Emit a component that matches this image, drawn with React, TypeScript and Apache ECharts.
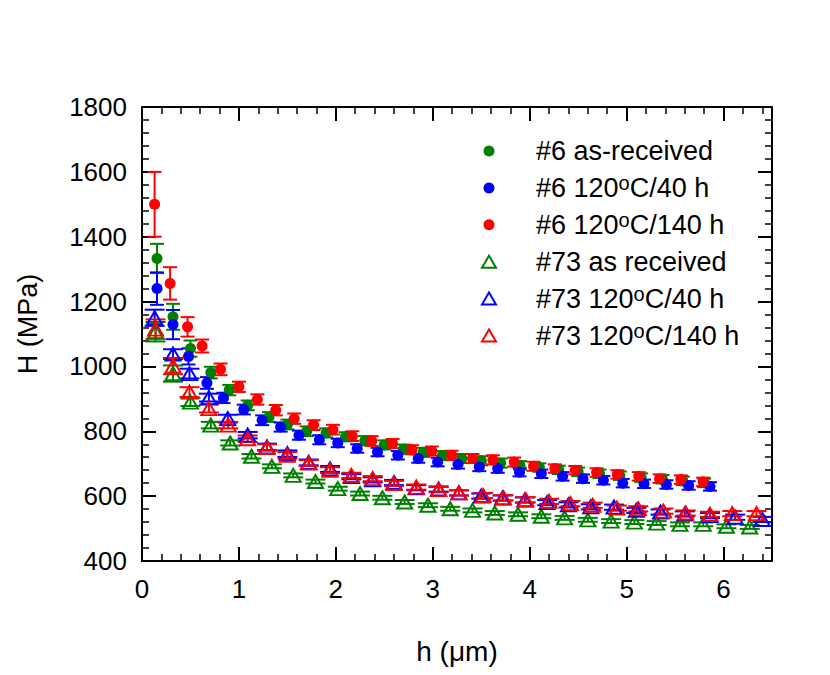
import React, { useEffect, useRef } from "react";
import * as echarts from "echarts";

const FONT = "'Liberation Sans', Arial, sans-serif";

// tick labels
const xTickLabels = ["0", "1", "2", "3", "4", "5", "6"];
const yTickLabels = ["400", "600", "800", "1000", "1200", "1400", "1600", "1800"];

// #6 as-received (green circles)
const hG6 = [0.155, 0.32, 0.5, 0.71, 0.9, 1.09, 1.31, 1.5, 1.7, 1.9, 2.1, 2.3, 2.5, 2.7, 2.9, 3.1, 3.3, 3.5, 3.7, 3.9, 4.1, 4.3, 4.5, 4.72, 4.93, 5.15, 5.37, 5.58, 5.8];
const HG6 = [1333, 1153, 1055, 981, 927, 880, 844, 821, 800, 795, 783, 771, 758, 745, 735, 725, 716, 709, 702, 695, 688, 681, 675, 669, 663, 657, 652, 647, 641];
const eG6 = [45, 40, 25, 18, 16, 15, 15, 15, 15, 14, 14, 14, 14, 14, 14, 14, 14, 14, 14, 13, 13, 13, 13, 13, 13, 13, 13, 13, 13];

// #6 120oC/40 h (blue circles)
const hB6 = [0.155, 0.32, 0.48, 0.67, 0.84, 1.05, 1.24, 1.43, 1.62, 1.83, 2.02, 2.22, 2.43, 2.64, 2.85, 3.05, 3.26, 3.48, 3.67, 3.895, 4.12, 4.34, 4.55, 4.76, 4.96, 5.18, 5.41, 5.64, 5.86];
const HB6 = [1240, 1129, 1031, 949, 903, 867, 834, 813, 788, 774, 764, 747, 736, 726, 716, 705, 698, 690, 685, 674, 669, 661, 654, 649, 640, 638, 636, 633, 630];
const eB6 = [50, 45, 25, 18, 16, 15, 15, 14, 14, 14, 13, 13, 13, 13, 13, 13, 13, 13, 13, 13, 13, 13, 13, 13, 13, 13, 13, 13, 13];

// #6 120oC/140 h (red circles)
const hR6 = [0.13, 0.29, 0.47, 0.62, 0.81, 1.0, 1.19, 1.38, 1.57, 1.77, 1.97, 2.17, 2.37, 2.585, 2.785, 2.99, 3.195, 3.41, 3.62, 3.84, 4.04, 4.26, 4.47, 4.69, 4.905, 5.125, 5.34, 5.56, 5.79];
const HR6 = [1500, 1256, 1122, 1063, 991, 937, 898, 865, 839, 819, 805, 785, 770, 762, 743, 739, 726, 716, 712, 705, 692, 685, 680, 673, 667, 661, 654, 651, 644];
const eR6 = [100, 50, 30, 20, 18, 16, 16, 16, 16, 15, 15, 15, 15, 14, 14, 14, 14, 14, 14, 14, 14, 13, 13, 13, 13, 13, 13, 13, 13];

// #73 as received (green triangles)
const hG73 = [0.14, 0.32, 0.5, 0.71, 0.91, 1.13, 1.34, 1.56, 1.79, 2.02, 2.25, 2.48, 2.71, 2.95, 3.18, 3.41, 3.64, 3.88, 4.12, 4.36, 4.6, 4.84, 5.08, 5.31, 5.55, 5.79, 6.03, 6.27];
const HG73 = [1107, 978, 890, 819, 764, 723, 692, 664, 645, 623, 608, 595, 582, 572, 561, 556, 548, 544, 538, 533, 527, 523, 520, 517, 513, 513, 507, 505];
const eG73 = [30, 25, 12, 10, 8, 7, 6, 6, 6, 6, 6, 6, 6, 6, 6, 6, 6, 6, 6, 6, 6, 6, 6, 6, 6, 6, 6, 6];

// #73 120oC/40 h (blue triangles)
const hB73 = [0.13, 0.32, 0.49, 0.69, 0.885, 1.09, 1.29, 1.5, 1.72, 1.94, 2.16, 2.38, 2.6, 2.83, 3.06, 3.27, 3.5, 3.72, 3.95, 4.18, 4.4, 4.63, 4.87, 5.1, 5.35, 5.6, 5.86, 6.12, 6.4];
const HB73 = [1150, 1038, 978, 904, 839, 788, 752, 731, 704, 684, 660, 650, 642, 626, 622, 610, 600, 594, 588, 580, 573, 567, 566, 556, 551, 545, 540, 535, 528];
const eB73 = [25, 15, 15, 12, 12, 10, 10, 10, 9, 9, 8, 8, 8, 8, 8, 8, 8, 8, 8, 8, 8, 8, 8, 8, 8, 8, 8, 8, 8];

// #73 120oC/140 h (red triangles)
const hR73 = [0.14, 0.32, 0.49, 0.69, 0.89, 1.09, 1.29, 1.5, 1.72, 1.94, 2.16, 2.38, 2.6, 2.83, 3.06, 3.27, 3.52, 3.73, 3.96, 4.2, 4.42, 4.65, 4.9, 5.12, 5.38, 5.61, 5.86, 6.09, 6.34];
const HR73 = [1115, 1001, 921, 870, 819, 777, 750, 726, 702, 680, 664, 654, 639, 628, 620, 610, 602, 595, 589, 584, 577, 572, 563, 561, 554, 548, 544, 546, 546];
const eR73 = [30, 25, 15, 12, 10, 10, 10, 10, 9, 9, 8, 8, 8, 8, 8, 8, 8, 8, 8, 8, 8, 8, 8, 8, 8, 8, 8, 8, 8];

const GREEN = "#008000";
const BLUE = "#0000ff";
const RED = "#ff0000";

const seriesDefs = [
  { name: "#6 as-received", label: "#6 as-received", h: hG6, H: HG6, e: eG6, color: GREEN, tri: false },
  { name: "#6 120°C/40 h", label: "#6 120{sup|o}C/40 h", h: hB6, H: HB6, e: eB6, color: BLUE, tri: false },
  { name: "#6 120°C/140 h", label: "#6 120{sup|o}C/140 h", h: hR6, H: HR6, e: eR6, color: RED, tri: false },
  { name: "#73 as received", label: "#73 as received", h: hG73, H: HG73, e: eG73, color: GREEN, tri: true },
  { name: "#73 120°C/40 h", label: "#73 120{sup|o}C/40 h", h: hB73, H: HB73, e: eB73, color: BLUE, tri: true },
  { name: "#73 120°C/140 h", label: "#73 120{sup|o}C/140 h", h: hR73, H: HR73, e: eR73, color: RED, tri: true },
];

function errorSeries(d: any) {
  const capHalf = d.tri ? 10 : 7;
  return {
    type: "custom",
    name: d.name + " err",
    xAxisIndex: 0,
    yAxisIndex: 0,
    silent: true,
    data: d.h.map((x: number, i: number) => [x, d.H[i], d.e[i]]),
    encode: { x: 0, y: 1 },
    renderItem: (params: any, api: any) => {
      const x = api.value(0);
      const y = api.value(1);
      const e = api.value(2);
      const t = api.coord([x, y + e]);
      const b = api.coord([x, y - e]);
      const st = { stroke: d.color, lineWidth: 2 };
      return {
        type: "group",
        children: [
          { type: "line", shape: { x1: t[0], y1: t[1], x2: b[0], y2: b[1] }, style: st },
          { type: "line", shape: { x1: t[0] - capHalf, y1: t[1], x2: t[0] + capHalf, y2: t[1] }, style: st },
          { type: "line", shape: { x1: b[0] - capHalf, y1: b[1], x2: b[0] + capHalf, y2: b[1] }, style: st },
        ],
      };
    },
  };
}

function markerSeries(d: any) {
  return {
    type: "scatter",
    name: d.name,
    xAxisIndex: 0,
    yAxisIndex: 0,
    silent: true,
    emphasis: { disabled: true },
    data: d.h.map((x: number, i: number) => [x, d.H[i]]),
    symbol: d.tri ? "triangle" : "circle",
    symbolSize: d.tri ? [15, 13] : 11,
    itemStyle: d.tri
      ? { color: "rgba(255,255,255,0)", borderColor: d.color, borderWidth: 2, opacity: 1 }
      : { color: d.color, opacity: 1 },
  };
}

const baseX = {
  type: "value",
  min: 0,
  max: 6.5,
  splitLine: { show: false },
};

function legendGraphics() {
  const out: any[] = [];
  const iconX = 489;
  const textX = 536;
  seriesDefs.forEach((d, i) => {
    const y = 151 + i * 36.9;
    if (d.tri) {
      out.push({
        type: "polygon",
        silent: true,
        shape: { points: [[iconX - 7, y + 6], [iconX + 7, y + 6], [iconX, y - 6]] },
        style: { fill: "none", stroke: d.color, lineWidth: 2 },
      });
    } else {
      out.push({
        type: "circle",
        silent: true,
        shape: { cx: iconX, cy: y, r: 5.5 },
        style: { fill: d.color },
      });
    }
    out.push({
      type: "text",
      x: textX,
      y,
      silent: true,
      style: {
        text: d.label,
        fontSize: 27,
        fontFamily: FONT,
        fill: "#000",
        align: "left",
        verticalAlign: "middle",
        lineHeight: 30,
        rich: {
          sup: { fontSize: 20, fontFamily: FONT, fill: "#000", lineHeight: 8, verticalAlign: "top" },
        },
      },
    });
  });
  return out;
}

export default function App() {
  const ref = useRef<HTMLDivElement>(null);
  useEffect(() => {
    const chart = echarts.init(ref.current!, null, { renderer: "svg" });
    const series: any[] = [];
    seriesDefs.forEach((d) => {
      series.push(errorSeries(d));
      series.push(markerSeries(d));
    });
    const axisLine = { show: true, onZero: false, lineStyle: { color: "#000", width: 2 } };
    const noLine = { show: false, onZero: false };
    const majorTick = { show: true, inside: true, length: 14, lineStyle: { color: "#000", width: 2 } };
    const minorTickX = { show: true, inside: true, length: 7, lineStyle: { color: "#000", width: 1.5 } };
    chart.setOption({
      animation: false,
      backgroundColor: "#fff",
      grid: { left: 142, top: 107, right: 58, bottom: 114 },
      xAxis: [
        {
          ...baseX,
          position: "bottom",
          interval: 1,
          axisLine,
          axisTick: majorTick,
          axisLabel: {
            show: true,
            margin: 15,
            fontSize: 26,
            fontFamily: FONT,
            color: "#000",
            formatter: (v: number) => (Number.isInteger(v) ? xTickLabels[v] : ""),
          },
        },
        {
          ...baseX,
          position: "bottom",
          interval: 0.2,
          axisLine: noLine,
          axisTick: minorTickX,
          axisLabel: { show: false },
        },
        {
          ...baseX,
          position: "top",
          interval: 1,
          axisLine,
          axisTick: majorTick,
          axisLabel: { show: false },
        },
        {
          ...baseX,
          position: "top",
          interval: 0.2,
          axisLine: noLine,
          axisTick: minorTickX,
          axisLabel: { show: false },
        },
      ],
      yAxis: [
        {
          type: "value",
          position: "left",
          min: 400,
          max: 1800,
          interval: 200,
          splitLine: { show: false },
          axisLine,
          axisTick: majorTick,
          minorTick: { show: true, splitNumber: 5, length: 7, lineStyle: { color: "#000", width: 1.5 } },
          axisLabel: {
            show: true,
            margin: 15,
            fontSize: 26,
            fontFamily: FONT,
            color: "#000",
            formatter: (v: number) => yTickLabels[Math.round((v - 400) / 200)] ?? "",
          },
        },
        {
          type: "value",
          position: "right",
          min: 400,
          max: 1800,
          interval: 200,
          splitLine: { show: false },
          axisLine,
          axisTick: majorTick,
          minorTick: { show: true, splitNumber: 5, length: 7, lineStyle: { color: "#000", width: 1.5 } },
          axisLabel: { show: false },
        },
      ],
      graphic: [
        ...legendGraphics(),
        {
          type: "text",
          x: 457,
          y: 651,
          silent: true,
          style: { text: "h (μm)", fontSize: 28, fontFamily: FONT, fill: "#000", align: "center", verticalAlign: "middle" },
        },
        {
          type: "text",
          x: 28,
          y: 324,
          rotation: Math.PI / 2,
          silent: true,
          style: { text: "H (MPa)", fontSize: 27, fontFamily: FONT, fill: "#000", align: "center", verticalAlign: "middle" },
        },
      ],
      series,
    });
    return () => chart.dispose();
  }, []);
  return (
    <div
      ref={ref}
      style={{ position: "fixed", left: 0, top: 0, width: 830, height: 675, background: "#fff" }}
    />
  );
}
